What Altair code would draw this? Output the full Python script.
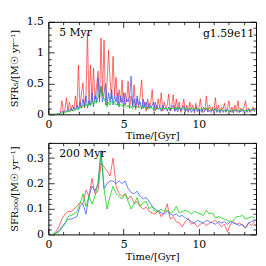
import altair as alt
import pandas as pd

# ---------------- data ----------------
# top panel: 5 Myr averaged SFR, sampled every 0.1 Gyr
t5 = [0.0, 0.1, 0.2, 0.3, 0.4, 0.5, 0.6, 0.7, 0.8, 0.9,
      1.0, 1.1, 1.2, 1.3, 1.4, 1.5, 1.6, 1.7, 1.8, 1.9,
      2.0, 2.1, 2.2, 2.3, 2.4, 2.5, 2.6, 2.7, 2.8, 2.9,
      3.0, 3.1, 3.2, 3.3, 3.4, 3.5, 3.6, 3.7, 3.8, 3.9,
      4.0, 4.1, 4.2, 4.3, 4.4, 4.5, 4.6, 4.7, 4.8, 4.9,
      5.0, 5.1, 5.2, 5.3, 5.4, 5.5, 5.6, 5.7, 5.8, 5.9,
      6.0, 6.1, 6.2, 6.3, 6.4, 6.5, 6.6, 6.7, 6.8, 6.9,
      7.0, 7.1, 7.2, 7.3, 7.4, 7.5, 7.6, 7.7, 7.8, 7.9,
      8.0, 8.1, 8.2, 8.3, 8.4, 8.5, 8.6, 8.7, 8.8, 8.9,
      9.0, 9.1, 9.2, 9.3, 9.4, 9.5, 9.6, 9.7, 9.8, 9.9,
      10.0, 10.1, 10.2, 10.3, 10.4, 10.5, 10.6, 10.7, 10.8, 10.9,
      11.0, 11.1, 11.2, 11.3, 11.4, 11.5, 11.6, 11.7, 11.8, 11.9,
      12.0, 12.1, 12.2, 12.3, 12.4, 12.5, 12.6, 12.7, 12.8, 12.9,
      13.0, 13.1, 13.2, 13.3, 13.4, 13.5, 13.6, 13.7]

red5 = [0, 0, 0, 0, 0, 0, 0.005, 0.01, 0.02, 0.22,
        0.03, 0.08, 0.27, 0.05, 0.2, 0.06, 0.15, 0.08, 0.3, 0.1,
        0.8, 0.12, 0.35, 0.51, 0.1, 0.3, 1.32, 0.15, 0.8, 0.2,
        0.75, 0.25, 0.45, 0.7, 0.2, 1.24, 0.3, 1.2, 0.15, 0.5,
        1.04, 0.56, 0.25, 0.94, 0.3, 0.6, 0.15, 0.4, 0.2, 0.56,
        0.1, 0.35, 0.2, 0.54, 0.1, 0.3, 0.15, 0.48, 0.08, 0.25,
        0.12, 0.3, 0.56, 0.1, 0.2, 0.05, 0.25, 0.1, 0.18, 0.4,
        0.05, 0.2, 0.08, 0.25, 0.1, 0.35, 0.05, 0.2, 0.1, 0.15,
        0.33, 0.05, 0.15, 0.32, 0.05, 0.25, 0.08, 0.2, 0.03, 0.12,
        0.25, 0.05, 0.15, 0.03, 0.2, 0.08, 0.15, 0.02, 0.18, 0.06,
        0.1, 0.25, 0.03, 0.12, 0.05, 0.3, 0.04, 0.15, 0.06, 0.12,
        0.03, 0.27, 0.05, 0.15, 0.02, 0.12, 0.08, 0.18, 0.03, 0.1,
        0.22, 0.04, 0.12, 0.02, 0.15, 0.05, 0.22, 0.03, 0.1, 0.06,
        0.12, 0.22, 0.03, 0.1, 0.05, 0.08, 0.12, 0.04]

blue5 = [0, 0, 0, 0, 0, 0, 0.005, 0.01, 0.02, 0.05,
         0.03, 0.06, 0.04, 0.08, 0.05, 0.1, 0.06, 0.12, 0.07, 0.15,
         0.08, 0.2, 0.1, 0.25, 0.12, 0.3, 0.1, 0.22, 0.15, 0.35,
         0.12, 0.3, 0.2, 0.59, 0.25, 0.45, 0.2, 0.35, 0.5, 0.15,
         0.35, 0.2, 0.4, 0.15, 0.3, 0.2, 0.35, 0.12, 0.3, 0.18,
         0.35, 0.15, 0.25, 0.2, 0.3, 0.62, 0.12, 0.25, 0.1, 0.3,
         0.15, 0.2, 0.08, 0.25, 0.12, 0.2, 0.08, 0.18, 0.1, 0.15,
         0.2, 0.06, 0.15, 0.08, 0.12, 0.05, 0.15, 0.08, 0.1, 0.05,
         0.12, 0.06, 0.1, 0.15, 0.05, 0.1, 0.04, 0.12, 0.06, 0.08,
         0.14, 0.04, 0.08, 0.05, 0.1, 0.03, 0.08, 0.05, 0.12, 0.04,
         0.07, 0.05, 0.09, 0.03, 0.06, 0.1, 0.04, 0.07, 0.03, 0.08,
         0.05, 0.1, 0.03, 0.06, 0.04, 0.08, 0.03, 0.07, 0.05, 0.09,
         0.04, 0.06, 0.03, 0.08, 0.05, 0.07, 0.03, 0.06, 0.04, 0.08,
         0.03, 0.06, 0.05, 0.08, 0.03, 0.06, 0.09, 0.05]

green5 = [0, 0, 0, 0, 0, 0, 0.003, 0.006, 0.01, 0.02,
          0.02, 0.03, 0.04, 0.05, 0.04, 0.06, 0.07, 0.06, 0.08, 0.09,
          0.08, 0.12, 0.1, 0.15, 0.12, 0.16, 0.13, 0.18, 0.14, 0.2,
          0.16, 0.22, 0.18, 0.28, 0.35, 0.46, 0.3, 0.25, 0.2, 0.12,
          0.2, 0.15, 0.22, 0.18, 0.2, 0.15, 0.18, 0.14, 0.16, 0.13,
          0.17, 0.14, 0.12, 0.15, 0.1, 0.13, 0.09, 0.14, 0.11, 0.13,
          0.1, 0.12, 0.13, 0.1, 0.12, 0.09, 0.11, 0.1, 0.12, 0.09,
          0.1, 0.08, 0.1, 0.09, 0.11, 0.08, 0.1, 0.09, 0.1, 0.08,
          0.09, 0.1, 0.08, 0.1, 0.09, 0.12, 0.08, 0.1, 0.09, 0.1,
          0.08, 0.1, 0.09, 0.11, 0.08, 0.09, 0.1, 0.08, 0.09, 0.1,
          0.08, 0.09, 0.07, 0.08, 0.1, 0.09, 0.08, 0.1, 0.08, 0.09,
          0.07, 0.08, 0.06, 0.07, 0.08, 0.06, 0.07, 0.06, 0.05, 0.06,
          0.05, 0.06, 0.05, 0.07, 0.06, 0.08, 0.07, 0.06, 0.08, 0.07,
          0.06, 0.07, 0.06, 0.07, 0.08, 0.06, 0.07, 0.06]

# bottom panel: 200 Myr averaged SFR, sampled every 0.2 Gyr
t200 = [0.1, 0.3, 0.5, 0.7, 0.9, 1.1, 1.3, 1.5, 1.7, 1.9,
        2.1, 2.3, 2.5, 2.7, 2.9, 3.1, 3.3, 3.5, 3.7, 3.9,
        4.1, 4.3, 4.5, 4.7, 4.9, 5.1, 5.3, 5.5, 5.7, 5.9,
        6.1, 6.3, 6.5, 6.7, 6.9, 7.1, 7.3, 7.5, 7.7, 7.9,
        8.1, 8.3, 8.5, 8.7, 8.9, 9.1, 9.3, 9.5, 9.7, 9.9,
        10.1, 10.3, 10.5, 10.7, 10.9, 11.1, 11.3, 11.5, 11.7, 11.9,
        12.1, 12.3, 12.5, 12.7, 12.9, 13.1, 13.3, 13.5, 13.7]

red200 = [0, 0, 0.01, 0.03, 0.06, 0.08, 0.09, 0.09, 0.1, 0.11,
          0.126, 0.12, 0.175, 0.15, 0.22, 0.16, 0.17, 0.28, 0.265, 0.25,
          0.23, 0.3, 0.19, 0.16, 0.15, 0.16, 0.14, 0.15, 0.12, 0.13,
          0.11, 0.1, 0.107, 0.09, 0.085, 0.08, 0.095, 0.07, 0.085, 0.12,
          0.06, 0.07, 0.05, 0.045, 0.03, 0.05, 0.062, 0.04, 0.045, 0.03,
          0.04, 0.045, 0.035, 0.043, 0.05, 0.056, 0.045, 0.03, 0.04, 0.01,
          0.04, 0.05, 0.04, 0.045, 0.035, 0.025, 0.045, 0.035, 0.05]

blue200 = [0, 0, 0.005, 0.015, 0.03, 0.045, 0.06, 0.06, 0.065, 0.07,
           0.11, 0.12, 0.08, 0.15, 0.19, 0.17, 0.2, 0.33, 0.18, 0.2,
           0.21, 0.21, 0.2, 0.21, 0.2, 0.21, 0.18, 0.165, 0.16, 0.17,
           0.15, 0.14, 0.145, 0.13, 0.11, 0.1, 0.09, 0.085, 0.08, 0.09,
           0.08, 0.075, 0.08, 0.07, 0.075, 0.065, 0.06, 0.05, 0.045, 0.055,
           0.05, 0.045, 0.055, 0.05, 0.045, 0.04, 0.05, 0.045, 0.05, 0.04,
           0.05, 0.045, 0.04, 0.035, 0.04, 0.025, 0.045, 0.05, 0.055]

green200 = [0, 0, 0.005, 0.01, 0.025, 0.04, 0.07, 0.075, 0.08, 0.09,
            0.12, 0.16, 0.11, 0.15, 0.12, 0.15, 0.2, 0.32, 0.18, 0.1,
            0.15, 0.19, 0.16, 0.15, 0.14, 0.16, 0.13, 0.1, 0.12, 0.145,
            0.11, 0.125, 0.13, 0.1, 0.11, 0.09, 0.09, 0.1, 0.09, 0.095,
            0.085, 0.09, 0.11, 0.085, 0.09, 0.095, 0.09, 0.08, 0.09, 0.085,
            0.08, 0.075, 0.095, 0.08, 0.085, 0.065, 0.07, 0.065, 0.06, 0.055,
            0.05, 0.055, 0.07, 0.07, 0.075, 0.06, 0.065, 0.07, 0.065]

series_names = ["red", "blue", "green"]
series_colors = ["#ff2020", "#2a55ff", "#10d010"]

x_major = [0, 5, 10]
x_ticks = [0, 1, 2, 3, 4, 5, 6, 7, 8, 9, 10, 11, 12, 13]
y5_major = [0, 0.5, 1, 1.5]
y5_ticks = [0, 0.1, 0.2, 0.3, 0.4, 0.5, 0.6, 0.7, 0.8, 0.9, 1.0,
            1.1, 1.2, 1.3, 1.4, 1.5]
y200_major = [0, 0.1, 0.2, 0.3]
y200_ticks = [0, 0.02, 0.04, 0.06, 0.08, 0.1, 0.12, 0.14, 0.16, 0.18,
              0.2, 0.22, 0.24, 0.26, 0.28, 0.3, 0.32, 0.34, 0.36]

FONT = "DejaVu Serif"
W = 211


def frame(df, ymax, ylab, ymaj, yticks, ymajtest, H, label_text, red_op, extra_text=None):
    xs = alt.Scale(domain=[0, 13.8], nice=False, zero=False)
    ys = alt.Scale(domain=[0, ymax], nice=False, zero=False)
    color = alt.Color("s:N", scale=alt.Scale(domain=series_names, range=series_colors), legend=None)
    xtest = "datum.value % 5 != 0"
    xsize = {"condition": {"test": xtest, "value": 3}, "value": 6}
    ysize = {"condition": {"test": ymajtest, "value": 3}, "value": 6}

    main = alt.Chart(df).mark_line(strokeWidth=0.9, clip=True).encode(
        x=alt.X("t:Q", scale=xs, title="Time/[Gyr]",
                axis=alt.Axis(values=x_major, ticks=False, domain=False, grid=False,
                              labelPadding=4, titlePadding=2, orient="bottom",
                              labelFlush=False, labelOverlap=False)),
        y=alt.Y("v:Q", scale=ys, title=ylab,
                axis=alt.Axis(values=ymaj, ticks=False, domain=False, grid=False,
                              labelPadding=5, titlePadding=7, orient="left",
                              labelExpr="format(datum.value, '~g')", labelFlush=False,
                              labelOverlap=False)),
        color=color,
        detail="s:N",
        order=alt.Order("t:Q"),
        opacity=alt.Opacity("s:N", scale=alt.Scale(domain=series_names, range=[red_op, 0.9, 1.0]), legend=None),
    )
    ticks_a = alt.Chart(df).mark_point(opacity=0).encode(
        x=alt.X("t:Q", scale=xs,
                axis=alt.Axis(orient="top", offset=-H, values=x_ticks, labels=False,
                              domain=False, grid=False, title=None, tickSize=xsize,
                              tickColor="black", tickWidth=0.8)),
        y=alt.Y("v:Q", scale=ys,
                axis=alt.Axis(orient="right", offset=-W, values=yticks, labels=False,
                              domain=False, grid=False, title=None, tickSize=ysize,
                              tickColor="black", tickWidth=0.8)),
    )
    ticks_b = alt.Chart(df).mark_point(opacity=0).encode(
        x=alt.X("t:Q", scale=xs,
                axis=alt.Axis(orient="bottom", offset=-H, values=x_ticks, labels=False,
                              domain=False, grid=False, title=None, tickSize=xsize,
                              tickColor="black", tickWidth=0.8)),
        y=alt.Y("v:Q", scale=ys,
                axis=alt.Axis(orient="left", offset=-W, values=yticks, labels=False,
                              domain=False, grid=False, title=None, tickSize=ysize,
                              tickColor="black", tickWidth=0.8)),
    )
    txt = alt.Chart(pd.DataFrame({"a": [0]})).mark_text(
        font=FONT, fontSize=11, align="left", baseline="middle", color="black"
    ).encode(x=alt.value(11), y=alt.value(11), text=alt.value(label_text))
    layers = [main, ticks_a, ticks_b, txt]
    if extra_text:
        txt2 = alt.Chart(pd.DataFrame({"a": [0]})).mark_text(
            font=FONT, fontSize=11, align="right", baseline="middle", color="black"
        ).encode(x=alt.value(W - 2), y=alt.value(12), text=alt.value(extra_text))
        layers.append(txt2)
    return alt.layer(*layers).resolve_axis(x="independent", y="independent").properties(
        width=W, height=H)


def make_df(t, vals_list):
    rows = []
    for k, (name, vals) in enumerate(zip(series_names, vals_list)):
        for tt, vv in zip(t, vals):
            rows.append({"t": tt, "v": vv, "s": name, "ord": k})
    return pd.DataFrame(rows)


df5 = make_df(t5, [red5, blue5, green5])
df200 = make_df(t200, [red200, blue200, green200])

top = frame(df5, 1.5, "SFR₅/[M☉ yr⁻¹]", y5_major, y5_ticks,
            "abs(datum.value*2 - round(datum.value*2)) > 0.01", 94, "5 Myr", 0.75, "g1.59e11")
bottom = frame(df200, 0.36, "SFR₂₀₀/[M☉ yr⁻¹]", y200_major, y200_ticks,
               "abs(datum.value*10 - round(datum.value*10)) > 0.01", 93, "200 Myr", 0.85)

chart = alt.vconcat(top, bottom, spacing=0).properties(
    padding={"left": 1, "top": 5, "right": 0, "bottom": 0}
).configure_view(stroke="black", strokeWidth=1).configure_axis(
    labelFont=FONT, titleFont=FONT, labelFontSize=11, titleFontSize=10,
    titleFontWeight="normal", labelColor="black", titleColor="black"
)

chart.save("out.html", embed_options={"renderer": "svg", "actions": False})
